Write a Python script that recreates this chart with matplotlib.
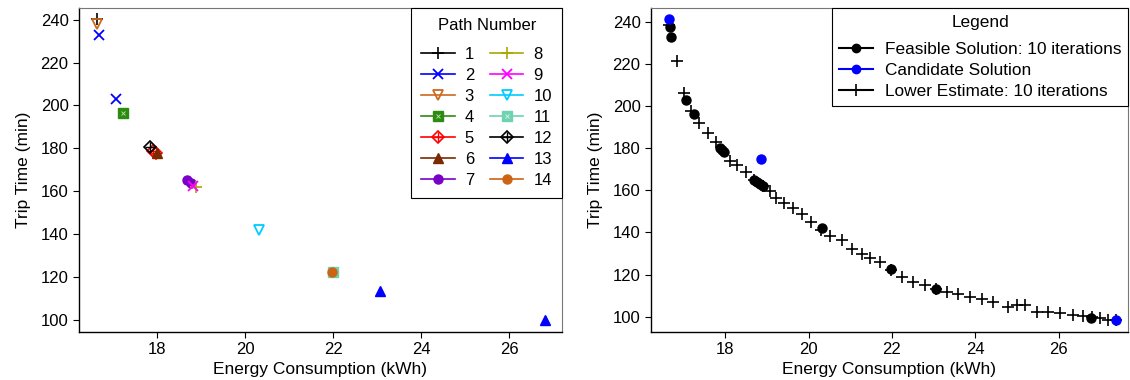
import matplotlib
matplotlib.use("Agg")
import matplotlib.pyplot as plt
from matplotlib.lines import Line2D
from matplotlib.legend_handler import HandlerTuple

plt.rcParams['font.family'] = ['Liberation Sans', 'DejaVu Sans']
plt.rcParams['font.size'] = 12

# Left panel: energy / trip time per path
path_names = [str(i) for i in range(1, 15)]
path_energy = [[16.64], [16.69, 17.07], [16.64], [17.24], [17.92, 17.97], [18.00],
               [18.68, 18.77], [18.88], [18.83], [20.32], [22.00], [17.84],
               [23.07, 26.81], [21.97]]
path_time = [[240.3], [232.9, 203.1], [238.0], [196.3], [178.8, 178.0], [177.8],
             [165.1, 163.8], [161.7], [162.3], [141.7], [122.0], [180.4],
             [113.2, 100.0], [122.2]]
path_colors = ['black', '#0000FF', '#CC6A1E', '#2E8B12', '#FF0000', '#7A2A00',
               '#7A00C8', '#A8A800', '#FF00FF', '#00CCFF', '#6FD2B0', 'black',
               '#0000FF', '#CC6414']

# Right panel
feasible_energy = [16.67, 16.70, 17.07, 17.25, 17.87, 17.92, 17.97, 18.69, 18.76,
                   18.84, 18.91, 20.33, 21.98, 23.06, 26.78]
feasible_time = [237.8, 232.7, 203.0, 196.3, 180.0, 179.0, 178.0, 165.0, 164.0,
                 163.0, 162.0, 142.3, 122.5, 113.0, 99.5]
candidate_energy = [16.65, 18.86, 27.38]
candidate_time = [241.3, 174.9, 98.4]
lower_energy = [16.65, 16.85, 17.02, 17.18, 17.38, 17.58, 17.77, 17.95, 18.11, 18.29,
                18.49, 18.70, 18.90, 19.07, 19.23, 19.41, 19.62, 19.83, 20.05, 20.30,
                20.51, 20.79, 21.03, 21.27, 21.47, 21.71, 21.98, 22.23, 22.51, 22.79,
                23.05, 23.31, 23.59, 23.87, 24.15, 24.43, 24.79, 24.99, 25.19, 25.47,
                25.75, 26.03, 26.35, 26.59, 26.80, 27.00, 27.19, 27.38]
lower_time = [238.6, 221.6, 206.4, 197.5, 192.0, 187.2, 182.9, 178.5, 173.8, 172.2,
              168.5, 165.0, 162.0, 159.5, 156.5, 153.8, 151.4, 148.6, 145.0, 141.0,
              138.3, 136.4, 132.0, 129.6, 128.0, 126.1, 122.0, 119.0, 116.6, 115.1,
              113.3, 111.9, 110.6, 109.5, 108.4, 107.1, 104.8, 105.6, 105.6, 102.4,
              102.4, 101.9, 100.8, 100.5, 99.8, 99.2, 98.4, 98.4]

fig = plt.figure(figsize=(11.3, 3.8), dpi=100)
ax1 = fig.add_axes([0.0699, 0.1263, 0.4274, 0.8526])
ax2 = fig.add_axes([0.5761, 0.1263, 0.4221, 0.8526])


def marker_style(i, c):
    # layers of markers used for path i
    if i in (0, 7):
        return [dict(marker='+', color=c, markersize=8, mew=1.2)]
    if i in (1, 8):
        return [dict(marker='x', color=c, markersize=6.5, mew=1.3)]
    if i in (2, 9):
        return [dict(marker='v', color=c, markerfacecolor='none', markersize=7, mew=1.3)]
    if i in (3, 10):
        return [dict(marker='s', color=c, markersize=6.5, mew=1.0),
                dict(marker='x', color='#bfe6b0' if i == 3 else '#d9f5ea', markersize=3.5, mew=0.6)]
    if i in (4, 11):
        return [dict(marker='D', color=c, markerfacecolor='none', markersize=6.5, mew=1.2),
                dict(marker='+', color=c, markersize=7.5, mew=1.0)]
    if i in (5, 12):
        return [dict(marker='^', color=c, markersize=6.5)]
    return [dict(marker='o', color=c, markersize=6.5)]


handles = []
for i in range(14):
    layers = marker_style(i, path_colors[i])
    parts = [Line2D([], [], color=path_colors[i], linewidth=1.2)]
    for kw in layers:
        ax1.plot(path_energy[i], path_time[i], linestyle='none', **kw)
        parts.append(Line2D([], [], linestyle='none', **kw))
    handles.append(tuple(parts))

leg1 = ax1.legend(handles, path_names, ncol=2, loc='upper right', title='Path Number',
                  borderaxespad=0, fancybox=False, edgecolor='black', framealpha=1,
                  fontsize=12, title_fontsize=12, borderpad=0.6,
                  handlelength=2.0, handletextpad=0.6, columnspacing=0.95, labelspacing=0.36,
                  handler_map={tuple: HandlerTuple(ndivide=1, pad=0)})
leg1.get_frame().set_linewidth(0.8)
leg1._legend_box.sep = 10  # extra gap under the title

ax1.set_xlim(16.23, 27.2)
ax1.set_ylim(94.2, 245.5)

ax2.plot(feasible_energy, feasible_time, linestyle='none', marker='o', color='black',
         markersize=6.5)
ax2.plot(lower_energy, lower_time, linestyle='none', marker='+', color='black',
         markersize=9, mew=1.2)
ax2.plot(candidate_energy, candidate_time, linestyle='none', marker='o', color='#0000FF',
         markersize=6.5)

h2 = [Line2D([], [], color='black', marker='o', markersize=6),
      Line2D([], [], color='#0000FF', marker='o', markersize=6),
      Line2D([], [], color='black', marker='+', markersize=9, mew=1.2)]
leg2 = ax2.legend(h2, ['Feasible Solution: 10 iterations', 'Candidate Solution',
                       'Lower Estimate: 10 iterations'],
                  loc='upper right', title='Legend', borderaxespad=0, fancybox=False,
                  edgecolor='black', framealpha=1, fontsize=12.4, title_fontsize=12.4,
                  borderpad=0.4, handlelength=2.0, handletextpad=0.65, labelspacing=0.35)
leg2.get_frame().set_linewidth(0.8)
leg2._legend_box.sep = 8.5

ax2.set_xlim(16.22, 27.66)
ax2.set_ylim(92.7, 246.6)

for ax in (ax1, ax2):
    ax.set_xticks([18, 20, 22, 24, 26])
    ax.set_yticks([100, 120, 140, 160, 180, 200, 220, 240])
    ax.set_xlabel('Energy Consumption (kWh)', fontsize=12.5, labelpad=3)
    ax.set_ylabel('Trip Time (min)', fontsize=12.5, labelpad=7)
    ax.tick_params(direction='out', length=4, width=0.8, labelsize=12)
    ax.spines['top'].set_color('#777777')
    ax.spines['right'].set_color('#777777')
    ax.spines['left'].set_linewidth(1.0)
    ax.spines['bottom'].set_linewidth(1.0)

fig.savefig('out.png', dpi=100)
